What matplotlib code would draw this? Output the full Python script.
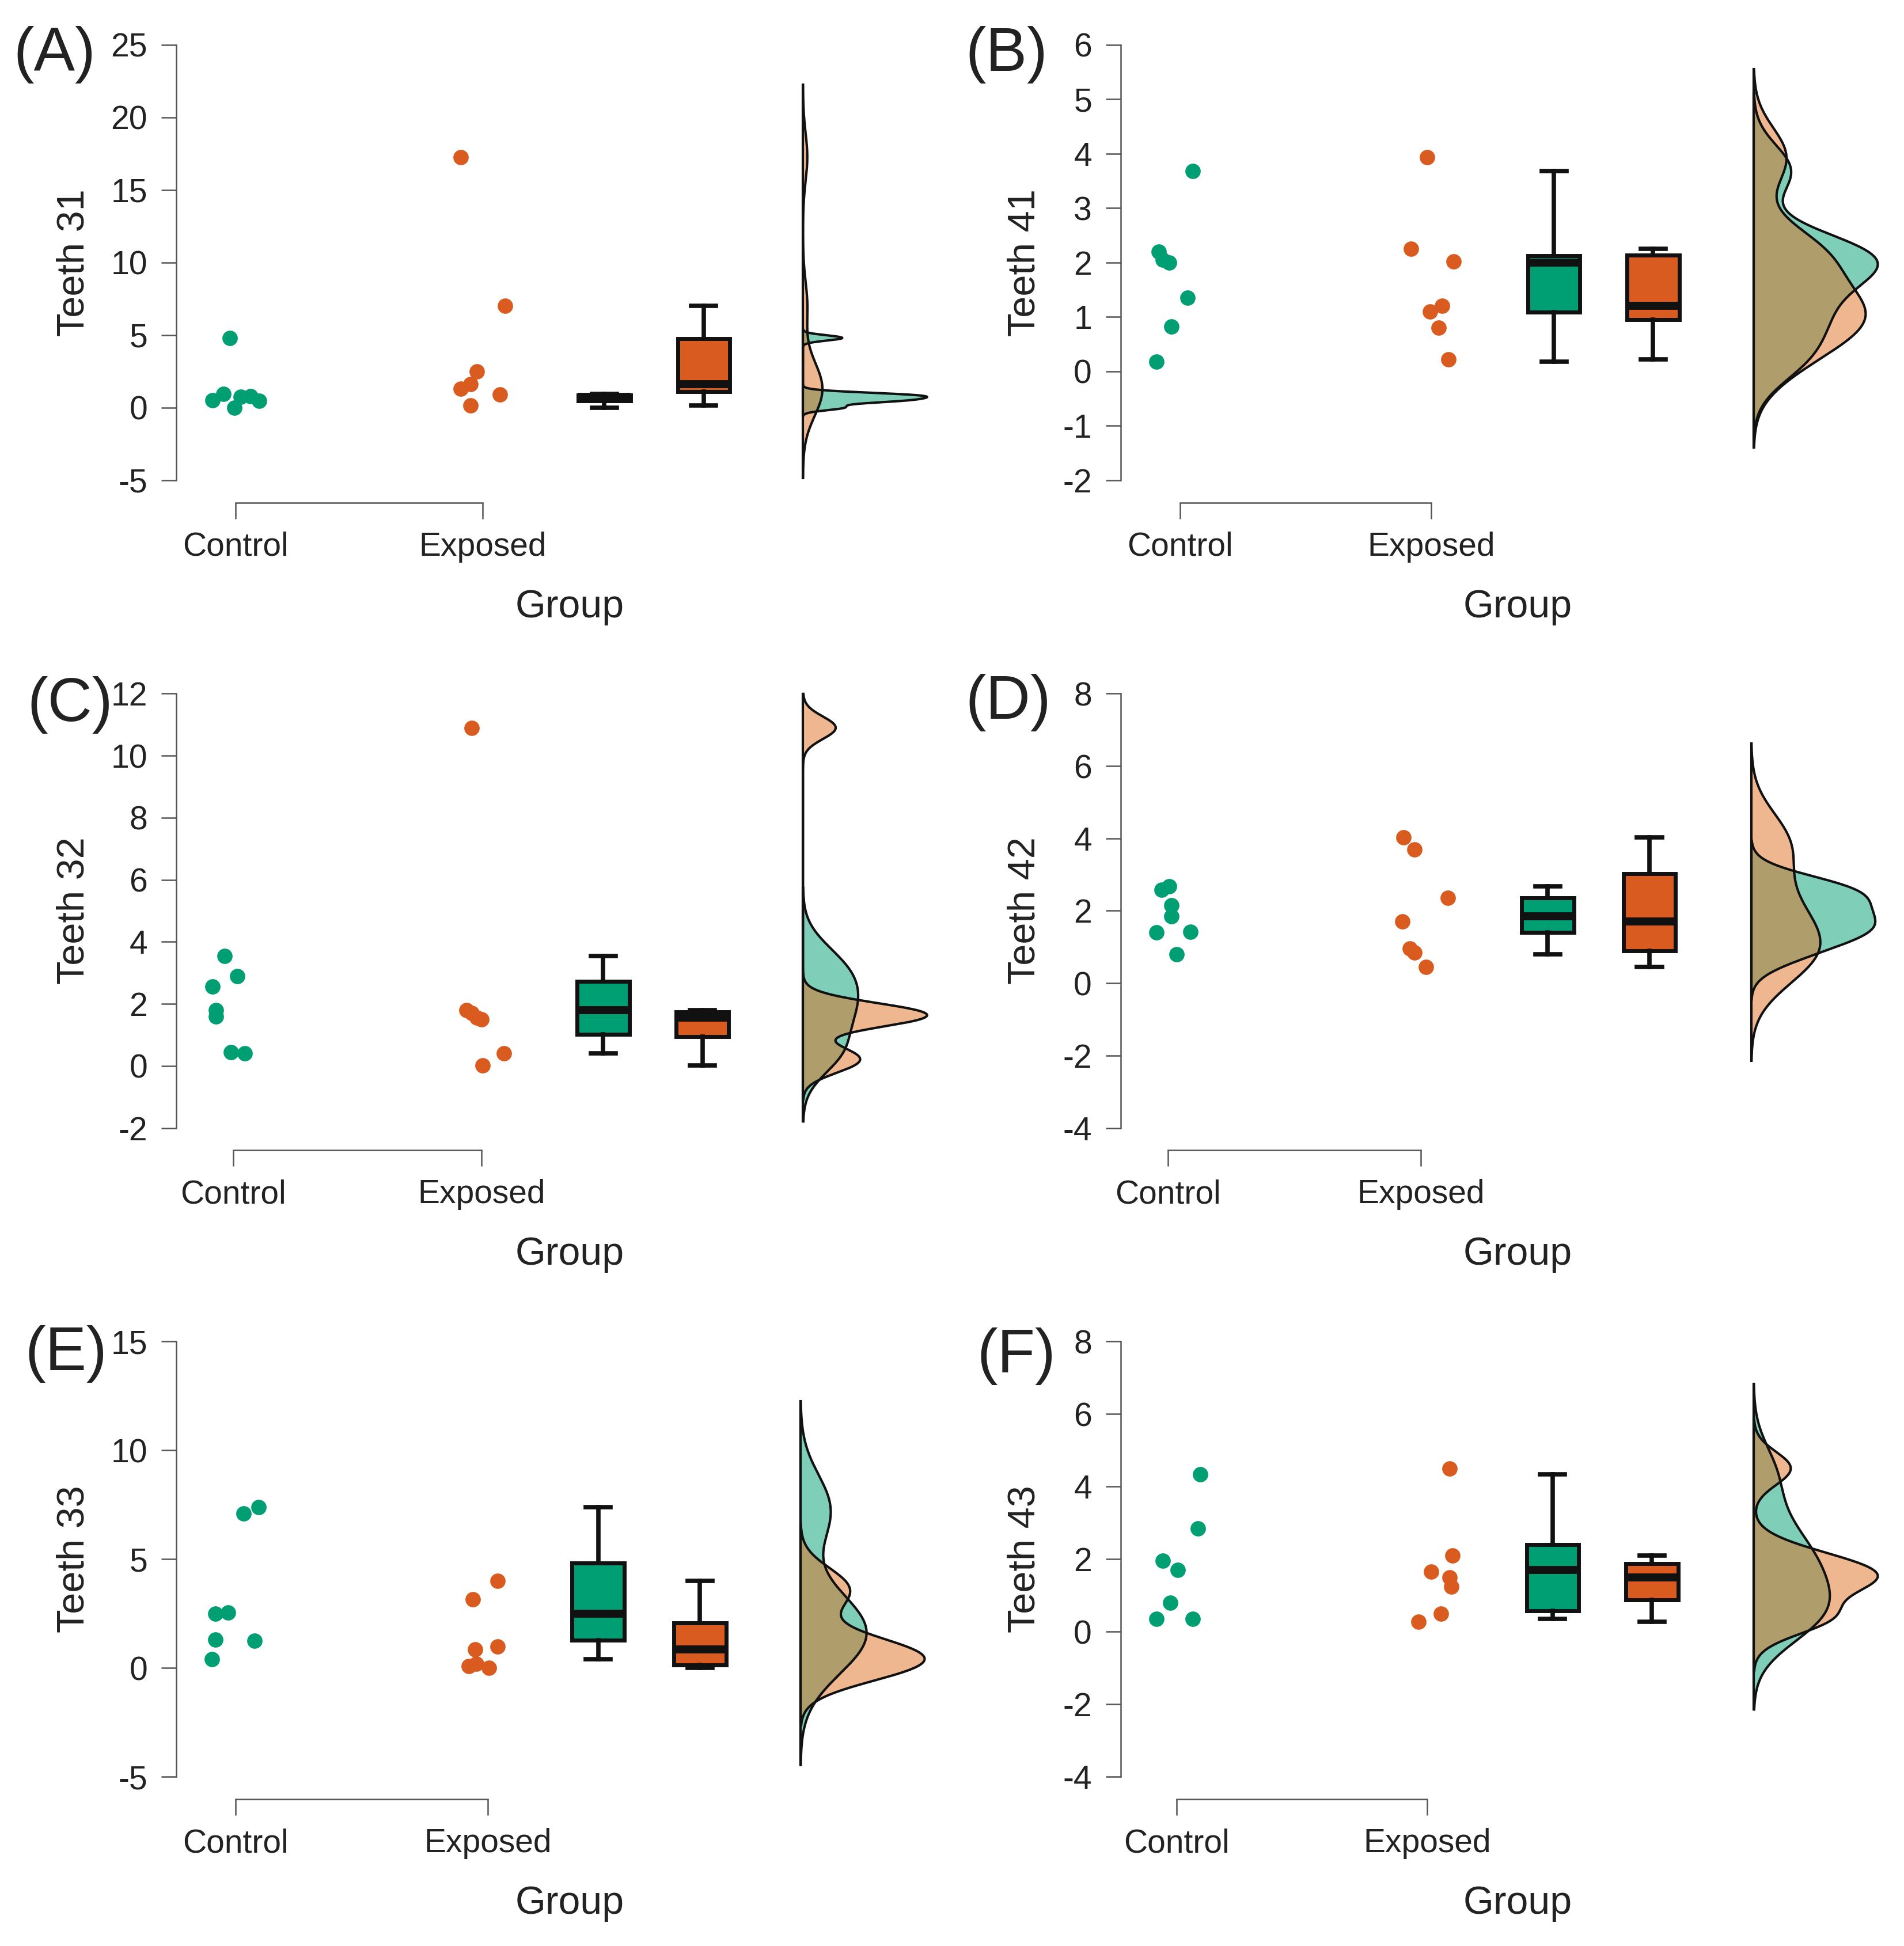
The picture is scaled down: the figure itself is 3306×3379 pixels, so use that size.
import numpy as np
import matplotlib
matplotlib.use('Agg')
from matplotlib import pyplot as plt

plt.rcParams['font.family'] = ['Liberation Sans', 'DejaVu Sans']
plt.rcParams['axes.unicode_minus'] = False

GREEN = '#009E73'
ORANGE = '#D95B1F'
TEXT = '#222222'
AXIS = '#555555'
FIG_W, FIG_H = 3306, 3379
# layout below was measured on a preview of the picture
SX = 2.155
SY = 2.1546

groups = ['Control', 'Exposed']

# values, jitter is the sideways offset in group units
a_control = [0.5, 0.95, 0.0, 0.75, 0.8, 0.45, 4.8]
a_control_jit = [-.095, -.05, -.005, .02, .06, .095, -.025]
a_exposed = [17.25, 7.0, 2.5, 1.6, 1.3, 0.9, 0.15]
a_exposed_jit = [-.09, .09, -.025, -.05, -.09, .07, -.05]

b_control = [3.68, 2.2, 2.05, 2.0, 1.35, 0.82, 0.18]
b_control_jit = [.05, -.085, -.07, -.045, .03, -.035, -.095]
b_exposed = [3.93, 2.25, 2.02, 1.2, 1.1, 0.8, 0.22]
b_exposed_jit = [-.015, -.08, .09, .045, -.005, .03, .07]

c_control = [3.55, 2.9, 2.55, 1.8, 1.6, 0.45, 0.4]
c_control_jit = [-.035, .015, -.085, -.07, -.07, -.01, .045]
c_exposed = [10.9, 1.8, 1.7, 1.55, 1.5, 0.4, 0.02]
c_exposed_jit = [-.04, -.06, -.04, -.02, 0, .09, .005]

d_control = [2.58, 2.68, 2.15, 1.85, 1.4, 1.42, 0.8]
d_control_jit = [-.025, .005, .015, .015, -.045, .09, .035]
d_exposed = [4.03, 3.7, 2.35, 1.7, 0.95, 0.85, 0.45]
d_exposed_jit = [-.07, -.025, .105, -.075, -.045, -.025, .02]

e_control = [7.4, 7.1, 2.55, 2.5, 1.3, 1.25, 0.4]
e_control_jit = [.09, .03, -.03, -.08, -.08, .075, -.095]
e_exposed = [4.0, 3.15, 0.85, 1.0, 0.1, 0.2, 0.02]
e_exposed_jit = [.04, -.06, -.05, .04, -.075, -.045, .005]

f_control = [4.33, 2.85, 1.95, 1.7, 0.8, 0.35, 0.35]
f_control_jit = [.095, .085, -.055, .005, -.025, -.08, .065]
f_exposed = [4.5, 2.1, 1.65, 1.5, 1.25, 0.5, 0.28]
f_exposed_jit = [.09, .1, .015, .09, .095, .055, -.035]

panels = [
    # tag, ylabel, data, yticks, spine x, top y, bottom y, control x, exposed x, box1, box2, base, label x, tag x, tag y, group x
    ('(A)', 'Teeth 31', (a_control, a_control_jit, a_exposed, a_exposed_jit), [-5, 0, 5, 10, 15, 20, 25],
     142, 36, 387, 190, 389, 487, 567, 647, 74, 11, 44, 459),
    ('(B)', 'Teeth 41', (b_control, b_control_jit, b_exposed, b_exposed_jit), [-2, -1, 0, 1, 2, 3, 4, 5, 6],
     903, 36, 387, 951, 1153, 1252, 1332, 1413, 840, 778, 44, 1223),
    ('(C)', 'Teeth 32', (c_control, c_control_jit, c_exposed, c_exposed_jit), [-2, 0, 2, 4, 6, 8, 10, 12],
     142, 559, 909, 188, 388, 486, 566, 647, 74, 22, 568, 459),
    ('(D)', 'Teeth 42', (d_control, d_control_jit, d_exposed, d_exposed_jit), [-4, -2, 0, 2, 4, 6, 8],
     903, 559, 909, 941, 1145, 1247, 1329, 1411, 840, 778, 566, 1223),
    ('(E)', 'Teeth 33', (e_control, e_control_jit, e_exposed, e_exposed_jit), [-5, 0, 5, 10, 15],
     142, 1081, 1432, 190, 393, 482, 564, 645, 74, 20, 1091, 459),
    ('(F)', 'Teeth 43', (f_control, f_control_jit, f_exposed, f_exposed_jit), [-4, -2, 0, 2, 4, 6, 8],
     903, 1081, 1432, 948, 1150, 1251, 1331, 1413, 840, 787, 1093, 1223),
]

AX_W = 615  # preview px


def kde(vals):
    # same as R density(): nrd0 bandwidth, cut = 3
    vals = np.asarray(vals, dtype=float)
    q1, q3 = np.percentile(vals, [25, 75])
    bw = 0.9 * min(vals.std(ddof=1), (q3 - q1) / 1.34) * len(vals) ** -0.2
    grid = np.linspace(vals.min() - 3 * bw, vals.max() + 3 * bw, 1024)
    dens = np.exp(-0.5 * ((grid[:, None] - vals) / bw) ** 2).sum(axis=1) / (len(vals) * bw * np.sqrt(2 * np.pi))
    return grid, dens


fig = plt.figure(figsize=(FIG_W / 100, FIG_H / 100), dpi=100, facecolor='white')

for tag, ylabel, data, yticks, sx, ty, by, cx, ex, b1, b2, base, lx, tx, tagy, gx in panels:
    ax = fig.add_axes([sx * SX / FIG_W, 1 - by * SY / FIG_H, AX_W * SX / FIG_W, (by - ty) * SY / FIG_H])
    ax.patch.set_alpha(0)
    span = ex - cx
    to_x = lambda p: 1 + (p - cx) / span
    ax.set_xlim(to_x(sx), to_x(sx + AX_W))
    ax.set_ylim(yticks[0], yticks[-1])

    control, control_jit, exposed, exposed_jit = data
    ax.scatter(1 + np.array(control_jit), control, s=370, color=GREEN, linewidths=0, clip_on=False, zorder=3)
    ax.scatter(2 + np.array(exposed_jit), exposed, s=370, color=ORANGE, linewidths=0, clip_on=False, zorder=3)

    bp = ax.boxplot([control, exposed], positions=[to_x(b1), to_x(b2)], widths=42 / span,
                    patch_artist=True, showfliers=False, capwidths=20 / span, manage_ticks=False,
                    boxprops=dict(linewidth=5, edgecolor='#111111'),
                    whiskerprops=dict(linewidth=5.5, color='#111111'),
                    capprops=dict(linewidth=5.5, color='#111111'),
                    medianprops=dict(linewidth=10, color='#111111', solid_capstyle='butt'))
    for box, col in zip(bp['boxes'], [GREEN, ORANGE]):
        box.set_facecolor(col)

    curves = [kde(control), kde(exposed)]
    peak = max(c[1].max() for c in curves)
    x0 = to_x(base)
    dw = 100 / span
    for (grid, dens), col in zip(curves, [GREEN, '#E07020']):
        xs = x0 + dens / peak * dw
        ax.fill_betweenx(grid, x0, xs, color=col, alpha=0.5, linewidth=0, clip_on=False)
        ax.plot(xs, grid, color='#111111', lw=3, clip_on=False)
        ax.plot([x0, x0], [grid[0], grid[-1]], color='#111111', lw=3, clip_on=False)

    for side in ['top', 'right']:
        ax.spines[side].set_visible(False)
    ax.spines['left'].set_color(AXIS)
    ax.spines['left'].set_linewidth(1.8)
    ax.spines['bottom'].set_color(AXIS)
    ax.spines['bottom'].set_linewidth(1.8)
    ax.spines['bottom'].set_position(('outward', 18 * SY * 0.72))
    ax.spines['bottom'].set_bounds(1, 2)

    ax.set_yticks(yticks)
    ax.set_yticklabels([str(t) for t in yticks])
    ax.tick_params(axis='y', length=19, width=1.8, color=AXIS, labelsize=41, labelcolor=TEXT, pad=17)
    ax.set_xticks([1, 2])
    ax.set_xticklabels(groups)
    ax.tick_params(axis='x', length=20, width=1.8, color=AXIS, labelsize=41, labelcolor=TEXT, pad=16)

    ax.set_ylabel(ylabel, fontsize=48, color=TEXT)
    ax.yaxis.set_label_coords((lx - sx) / AX_W, 0.5)

    fig.text(gx * SX / FIG_W, 1 - (by + 102) * SY / FIG_H, 'Group', fontsize=49, color=TEXT, ha='center', va='center')
    fig.text(tx * SX / FIG_W, 1 - tagy * SY / FIG_H, tag, fontsize=77, color=TEXT, ha='left', va='center')

fig.savefig('out.png', dpi=100, facecolor='white')
